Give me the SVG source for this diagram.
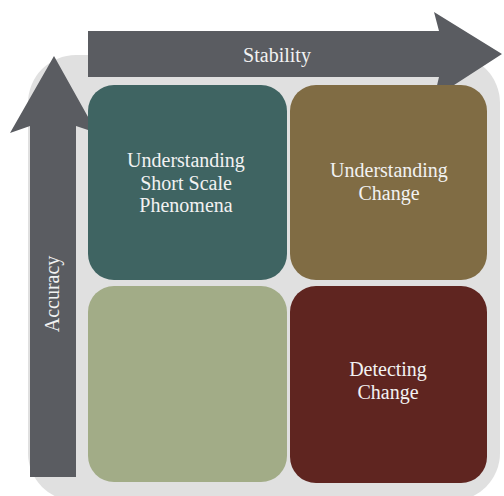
<svg xmlns="http://www.w3.org/2000/svg" width="504" height="496" viewBox="0 0 504 496">
<style>
.lbl{font-family:"Liberation Serif","Times New Roman",serif;font-size:20px;fill:#f2f2f2;text-anchor:middle}
.axis{fill:#5a5c61}
</style>
<rect width="504" height="496" fill="#ffffff"/>
<rect id="background" x="28" y="55" width="472" height="446" rx="48" fill="#e0e0e0"/>
<g id="connectors">
<polygon class="axis" points="88,31 439,31 434,12 502,54 434,98 439,77 88,77"/>
<polygon class="axis" points="54,56 97,133 76,126 76,477 30,477 30,126 10,133"/>
<text class="lbl" x="277" y="62" font-size="21">Stability</text>
<text class="lbl" transform="translate(59,294) rotate(-90)" font-size="21">Accuracy</text>
</g>
<g id="node-short-scale">
<rect x="88" y="85" width="199" height="195" rx="26" fill="#3f6462"/>
<text class="lbl" x="186" y="167">Understanding</text>
<text class="lbl" x="186" y="189.5">Short Scale</text>
<text class="lbl" x="186" y="212">Phenomena</text>
</g>
<g id="node-understanding-change">
<rect x="290" y="85" width="197" height="195" rx="26" fill="#806c44"/>
<text class="lbl" x="389" y="177">Understanding</text>
<text class="lbl" x="389" y="199.5">Change</text>
</g>
<g id="node-empty">
<rect x="88" y="286" width="199" height="196" rx="26" fill="#a2ac87"/>
</g>
<g id="node-detecting-change">
<rect x="290" y="286" width="197" height="197" rx="26" fill="#5f2520"/>
<text class="lbl" x="388" y="376">Detecting</text>
<text class="lbl" x="388" y="398.5">Change</text>
</g>
</svg>
